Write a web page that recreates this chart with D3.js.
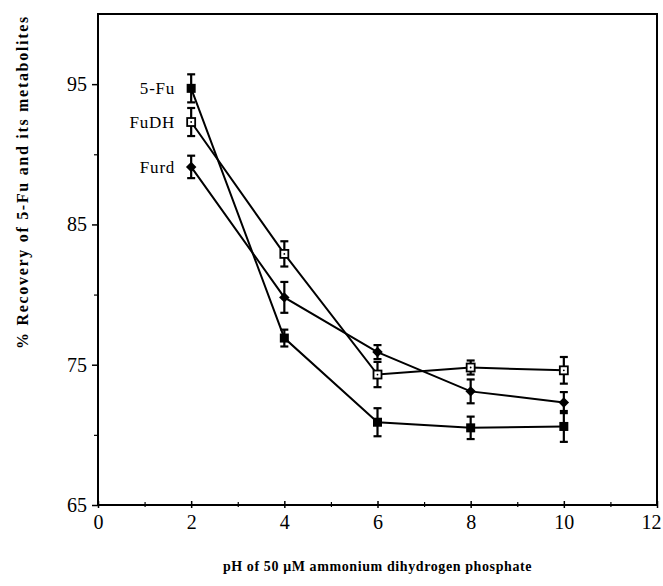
<!DOCTYPE html>
<html>
<head>
<meta charset="utf-8">
<script src="https://cdn.jsdelivr.net/npm/d3@7"></script>
<style>
  body { margin: 0; background: #fff; }
  svg { display: block; font-family: "Liberation Serif", "DejaVu Serif", serif; }
</style>
</head>
<body>
<svg id="chart"></svg>
<script>
// pH values and recovery (%)
const phValues = [2, 4, 6, 8, 10];
const fuValues = [94.7, 76.9, 70.9, 70.5, 70.6];
const fuErrors = [1.0, 0.6, 1.0, 0.8, 1.1];
const fudhValues = [92.3, 82.9, 74.3, 74.8, 74.6];
const fudhErrors = [1.0, 0.9, 0.9, 0.5, 0.95];
const furdValues = [89.1, 79.8, 75.9, 73.1, 72.3];
const furdErrors = [0.8, 1.1, 0.5, 0.85, 0.75];
const seriesNames = ['5-Fu', 'FuDH', 'Furd'];
const xTicks = [0, 2, 4, 6, 8, 10, 12];
const yTicks = [65, 75, 85, 95];
const yMinorTicks = [70, 80, 90];

const width = 663, height = 586;
const margin = { top: 14, right: 6, bottom: 81, left: 98 };

const svg = d3.select('#chart')
  .attr('width', width)
  .attr('height', height);

const x = d3.scaleLinear().domain([0, 12]).range([margin.left, width - margin.right]);
const y = d3.scaleLinear().domain([65, 100]).range([height - margin.bottom, margin.top]);

const series = [
  { name: seriesNames[0], values: fuValues, errors: fuErrors, marker: 'filledSquare' },
  { name: seriesNames[1], values: fudhValues, errors: fudhErrors, marker: 'openSquare' },
  { name: seriesNames[2], values: furdValues, errors: furdErrors, marker: 'diamond' }
];

// Frame
svg.append('rect')
  .attr('x', x(0)).attr('y', y(100))
  .attr('width', x(12) - x(0)).attr('height', y(65) - y(100))
  .attr('fill', 'none').attr('stroke', '#000').attr('stroke-width', 2);

// Y axis
const yAxis = svg.append('g')
  .attr('transform', `translate(${x(0)},0)`)
  .call(d3.axisLeft(y).tickValues(yTicks).tickSize(6).tickPadding(5));
yAxis.select('.domain').remove();
yAxis.selectAll('text')
  .attr('font-size', 20)
  .attr('font-family', '"Liberation Serif", serif')
  .attr('fill', '#000');
yAxis.selectAll('line').attr('stroke-width', 1.5);

svg.append('g')
  .attr('transform', `translate(${x(0)},0)`)
  .call(d3.axisLeft(y).tickValues(yMinorTicks).tickSize(4).tickFormat(''))
  .call(g => g.select('.domain').remove())
  .selectAll('line').attr('stroke-width', 1.2);

// X axis
const xAxis = svg.append('g')
  .attr('transform', `translate(0,${y(65)})`)
  .call(d3.axisBottom(x).tickValues(xTicks).tickSize(4).tickPadding(6));
xAxis.select('.domain').remove();
xAxis.selectAll('text')
  .attr('font-size', 20)
  .attr('font-family', '"Liberation Serif", serif')
  .attr('fill', '#000');
// last label sits against the page edge in the original
xAxis.selectAll('.tick').filter(d => d === 12).select('text')
  .attr('text-anchor', 'end').attr('dx', 4);
xAxis.selectAll('line').attr('y1', -4).attr('y2', 3).attr('stroke-width', 1.5);

svg.append('g')
  .attr('transform', `translate(0,${y(65)})`)
  .call(d3.axisBottom(x).tickValues(d3.range(1, 12, 2)).tickSize(0).tickFormat(''))
  .call(g => g.select('.domain').remove())
  .selectAll('line').attr('y1', -3).attr('y2', 2).attr('stroke', '#000').attr('stroke-width', 1.2);

// Axis titles
svg.append('text')
  .attr('x', (x(0) + x(12)) / 2)
  .attr('y', 571)
  .attr('text-anchor', 'middle')
  .attr('font-size', 14)
  .attr('font-weight', 'bold')
  .attr('letter-spacing', 0.6)
  .text('pH of 50 \u03bcM ammonium dihydrogen phosphate');

svg.append('text')
  .attr('transform', 'translate(28,182) rotate(-90)')
  .attr('text-anchor', 'middle')
  .attr('font-size', 16)
  .attr('font-weight', 'bold')
  .attr('letter-spacing', 1.7)
  .text('% Recovery of 5-Fu and its metabolites');

const line = d3.line()
  .x((d, i) => x(phValues[i]))
  .y(d => y(d));

series.forEach(s => {
  const g = svg.append('g');

  g.append('path')
    .datum(s.values)
    .attr('d', line)
    .attr('fill', 'none')
    .attr('stroke', '#000')
    .attr('stroke-width', 2);

  // Error bars
  s.values.forEach((v, i) => {
    const cx = x(phValues[i]);
    const top = y(v + s.errors[i]);
    const bot = y(v - s.errors[i]);
    g.append('line').attr('x1', cx).attr('x2', cx).attr('y1', top).attr('y2', bot)
      .attr('stroke', '#000').attr('stroke-width', 2.2);
    [top, bot].forEach(yy => {
      g.append('line').attr('x1', cx - 4).attr('x2', cx + 4).attr('y1', yy).attr('y2', yy)
        .attr('stroke', '#000').attr('stroke-width', 2.2);
    });
  });

  // Markers
  s.values.forEach((v, i) => {
    const cx = x(phValues[i]), cy = y(v);
    if (s.marker === 'filledSquare') {
      g.append('rect').attr('x', cx - 4.5).attr('y', cy - 4.5).attr('width', 9).attr('height', 9)
        .attr('fill', '#000');
    } else if (s.marker === 'openSquare') {
      g.append('rect').attr('x', cx - 4).attr('y', cy - 4).attr('width', 8).attr('height', 8)
        .attr('fill', '#fff').attr('stroke', '#000').attr('stroke-width', 1.8);
      g.append('circle').attr('cx', cx).attr('cy', cy).attr('r', 0.9).attr('fill', '#000');
    } else {
      g.append('path')
        .attr('d', d3.symbol(d3.symbolDiamond2, 70)())
        .attr('transform', `translate(${cx},${cy})`)
        .attr('fill', '#000');
    }
  });

  // Series label at the first point
  g.append('text')
    .attr('x', x(phValues[0]) - 16)
    .attr('y', y(s.values[0]) + 6)
    .attr('text-anchor', 'end')
    .attr('font-size', 17)
    .attr('letter-spacing', 0.8)
    .text(s.name);
});
</script>
</body>
</html>
